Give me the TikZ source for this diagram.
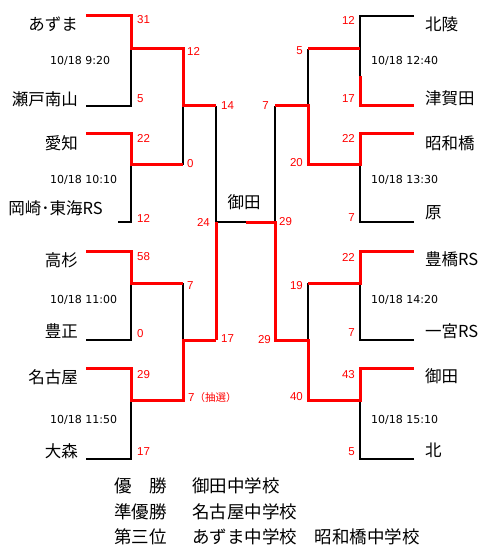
\documentclass[tikz,border=0pt]{standalone}
\usepackage{fontspec}
\setmainfont{Noto Sans CJK JP}
\newfontfamily\cjkf{Noto Sans CJK JP}
\newfontfamily\numf{Liberation Sans}
\newfontfamily\datef{DejaVu Sans}
\begin{document}
\begin{tikzpicture}[x=1pt,y=-1pt,
  blk/.style={draw=black,line width=2.5pt},
  rd/.style={draw=red,line width=3pt},
  team/.style={font=\cjkf\fontsize{16.5}{18}\selectfont,inner sep=0pt},
  sc/.style={text=red,font=\numf\fontsize{11.5}{13}\selectfont,inner sep=0pt},
  dt/.style={font=\datef\fontsize{11}{13}\selectfont,inner sep=0pt,anchor=west},
  res/.style={font=\cjkf\fontsize{17.5}{20}\selectfont,inner sep=0pt,anchor=west}]
\useasboundingbox (0,0) rectangle (490,556);
% ---------- left coordinates
\coordinate (L1s) at (86,16);  \coordinate (L1e) at (131,16);
\coordinate (L2s) at (86,106); \coordinate (L2e) at (131,106);
\coordinate (L3s) at (86,134); \coordinate (L3e) at (131,134);
\coordinate (L4s) at (118,222);\coordinate (L4e) at (131,222);
\coordinate (L5s) at (86,251); \coordinate (L5e) at (131,251);
\coordinate (L6s) at (86,340); \coordinate (L6e) at (131,340);
\coordinate (L7s) at (86,368); \coordinate (L7e) at (131,368);
\coordinate (L8s) at (86,459); \coordinate (L8e) at (131,459);
\coordinate (M1) at (131,49);  \coordinate (M2) at (131,165);
\coordinate (M3) at (131,283); \coordinate (M4) at (131,400);
\coordinate (Q1a) at (183,49); \coordinate (Q1m) at (183,106); \coordinate (Q1b) at (183,165);
\coordinate (Q2a) at (183,283);\coordinate (Q2m) at (183,340); \coordinate (Q2b) at (183,400);
\coordinate (Sa) at (216,106); \coordinate (Sm) at (216,222); \coordinate (Sb) at (216,340);
\coordinate (Cm) at (246,222);
% ---------- right coordinates
\coordinate (Ta) at (275,106); \coordinate (Tm) at (275,222); \coordinate (Tb) at (275,340);
\coordinate (P1a) at (308,49); \coordinate (P1m) at (308,106); \coordinate (P1b) at (308,165);
\coordinate (P2a) at (308,283);\coordinate (P2m) at (308,340); \coordinate (P2b) at (308,400);
\coordinate (N1) at (360,49);  \coordinate (N2) at (360,165);
\coordinate (N3) at (360,283); \coordinate (N4) at (360,400);
\coordinate (R1s) at (360,16);  \coordinate (R1e) at (414,16);
\coordinate (R2k) at (360,76);
\coordinate (R2s) at (360,106); \coordinate (R2e) at (414,106);
\coordinate (R3s) at (360,134); \coordinate (R3e) at (414,134);
\coordinate (R4s) at (360,222); \coordinate (R4e) at (414,222);
\coordinate (R5s) at (360,251); \coordinate (R5e) at (414,251);
\coordinate (R6s) at (360,340); \coordinate (R6e) at (414,340);
\coordinate (R7s) at (360,368); \coordinate (R7e) at (414,368);
\coordinate (R8s) at (360,459); \coordinate (R8e) at (414,459);
% ---------- black lines
\draw[blk] (L2s) -- (L2e) -- (M1);
\draw[blk] (L4s) -- (L4e) -- (M2);
\draw[blk] (L6s) -- (L6e) -- (M3);
\draw[blk] (L8s) -- (L8e) -- (M4);
\draw[blk] (Q1m) -- (Q1b);
\draw[blk] (Q2a) -- (Q2m);
\draw[blk] (Sa) -- (Sm) -- (Cm);
\draw[blk] (Ta) -- (Tm);
\draw[blk] (P1a) -- (P1m);
\draw[blk] (P2a) -- (P2m);
\draw[blk] (R1e) -- (R1s) -- (N1) -- (R2k);
\draw[blk] (R4e) -- (R4s) -- (N2);
\draw[blk] (R6e) -- (R6s) -- (N3);
\draw[blk] (R8e) -- (R8s) -- (N4);
% ---------- red lines
\draw[rd] (L1s) -- (L1e) -- (M1) -- (Q1a) -- (Q1m) -- (Sa);
\draw[rd] (L3s) -- (L3e) -- (M2) -- (Q1b);
\draw[rd] (L5s) -- (L5e) -- (M3) -- (Q2a);
\draw[rd] (L7s) -- (L7e) -- (M4) -- (Q2b) -- (Q2m) -- (Sb);
\draw[rd] (Sb) -- (Sm);
\draw[rd] (Cm) -- (Tm) -- (Tb) -- (P2m) -- (P2b) -- (N4) -- (R7s) -- (R7e);
\draw[rd] (P2a) -- (N3) -- (R5s) -- (R5e);
\draw[rd] (Ta) -- (P1m) -- (P1b) -- (N2) -- (R3s) -- (R3e);
\draw[rd] (P1a) -- (N1);
\draw[rd] (R2k) -- (R2s) -- (R2e);
% ---------- team names
\node[team,anchor=east] (tA) at (78,24)  {あずま};
\node[team,anchor=east] (tB) at (78,99)  {瀬戸南山};
\node[team,anchor=east] (tC) at (78,143) {愛知};
\node[team,anchor=east] (tD) at (103,208) {岡崎･東海RS};
\node[team,anchor=east] (tE) at (78,260) {高杉};
\node[team,anchor=east] (tF) at (78,331) {豊正};
\node[team,anchor=east] (tG) at (78,377) {名古屋};
\node[team,anchor=east] (tH) at (78,451) {大森};
\node[team,anchor=west] (tI) at (425,24)  {北陵};
\node[team,anchor=west] (tJ) at (425,98)  {津賀田};
\node[team,anchor=west] (tK) at (425,143) {昭和橋};
\node[team,anchor=west] (tL) at (425,213) {原};
\node[team,anchor=west] (tM) at (425,259) {豊橋RS};
\node[team,anchor=west] (tN) at (425,331) {一宮RS};
\node[team,anchor=west] (tO) at (425,376) {御田};
\node[team,anchor=west] (tP) at (425,450) {北};
\node[team] (champ) at (244,202) {御田};
% ---------- dates
\node[dt] (d1) at (50,61)  {10/18 9:20};
\node[dt] (d2) at (50,180) {10/18 10:10};
\node[dt] (d3) at (50,300) {10/18 11:00};
\node[dt] (d4) at (50,420) {10/18 11:50};
\node[dt] (d5) at (371,61)  {10/18 12:40};
\node[dt] (d6) at (371,180) {10/18 13:30};
\node[dt] (d7) at (371,300) {10/18 14:20};
\node[dt] (d8) at (371,420) {10/18 15:10};
% ---------- left scores
\node[sc,anchor=west] (s1)  at (137,20)  {31};
\node[sc,anchor=west] (s2)  at (137,99)  {5};
\node[sc,anchor=west] (s3)  at (187,51)  {12};
\node[sc,anchor=west] (s4)  at (221,106) {14};
\node[sc,anchor=west] (s5)  at (137,138) {22};
\node[sc,anchor=west] (s6)  at (187,164) {0};
\node[sc,anchor=west] (s7)  at (137,218) {12};
\node[sc,anchor=east] (s8)  at (210,222) {24};
\node[sc,anchor=west] (s9)  at (137,257) {58};
\node[sc,anchor=west] (s10) at (187,286) {7};
\node[sc,anchor=west] (s11) at (137,334) {0};
\node[sc,anchor=west] (s12) at (221,339) {17};
\node[sc,anchor=west] (s13) at (137,375) {29};
\node[sc,anchor=west] (s14) at (188,398) {7{\cjkf\fontsize{10.5}{12}\selectfont （抽選）}};
\node[sc,anchor=west] (s15) at (137,452) {17};
% ---------- right scores
\node[sc,anchor=east] (r1)  at (355,20)  {12};
\node[sc,anchor=east] (r2)  at (303,51)  {5};
\node[sc,anchor=east] (r3)  at (355,99)  {17};
\node[sc,anchor=east] (r4)  at (269,106) {7};
\node[sc,anchor=east] (r5)  at (355,138) {22};
\node[sc,anchor=east] (r6)  at (303,163) {20};
\node[sc,anchor=east] (r7)  at (355,218) {7};
\node[sc,anchor=west] (r8)  at (279,222) {29};
\node[sc,anchor=east] (r9)  at (355,257) {22};
\node[sc,anchor=east] (r10) at (303,286) {19};
\node[sc,anchor=east] (r11) at (355,333) {7};
\node[sc,anchor=east] (r12) at (271,340) {29};
\node[sc,anchor=east] (r13) at (355,375) {43};
\node[sc,anchor=east] (r14) at (303,397) {40};
\node[sc,anchor=east] (r15) at (355,452) {5};
% ---------- results
\node[res] (k1) at (114,486) {優　勝};
\node[res] (k2) at (114,511.5) {準優勝};
\node[res] (k3) at (114,537) {第三位};
\node[res] (v1) at (192,486) {御田中学校};
\node[res] (v2) at (192,511.5) {名古屋中学校};
\node[res] (v3) at (192,537) {あずま中学校　昭和橋中学校};
\end{tikzpicture}
\end{document}
